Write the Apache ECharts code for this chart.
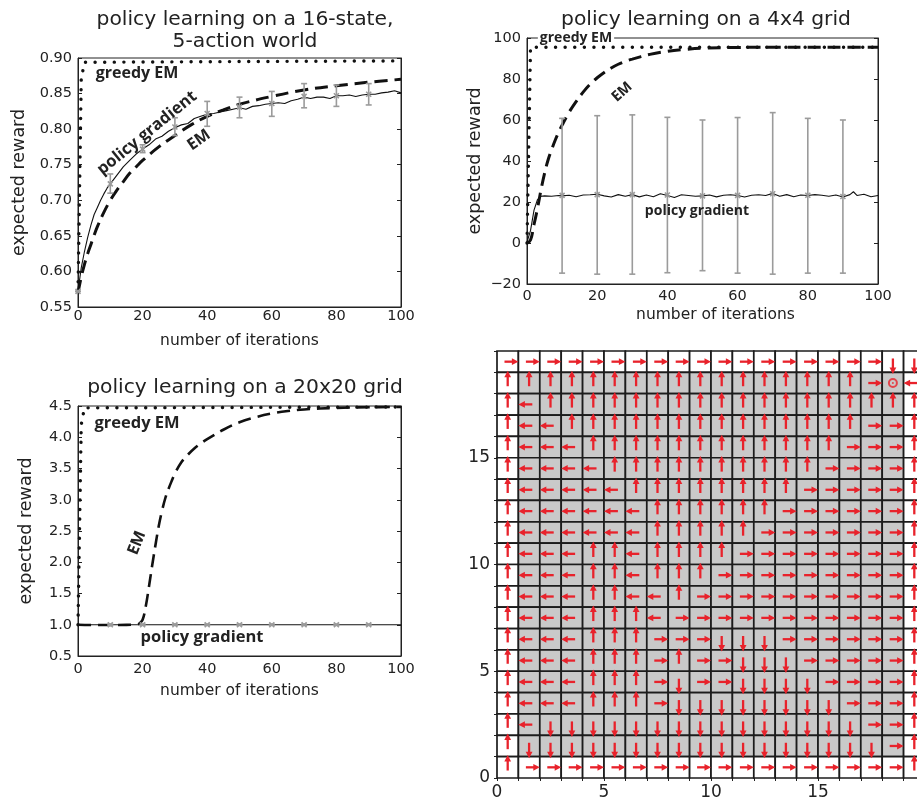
<!DOCTYPE html>
<html>
<head>
<meta charset="utf-8">
<title>policy learning</title>
<script src="https://cdn.jsdelivr.net/npm/echarts@6/dist/echarts.min.js"></script>
<style>
  html, body { margin: 0; padding: 0; background: #fff; }
  #chart { width: 917px; height: 802px; }
</style>
</head>
<body>
<div id="chart"></div>
<script>
// ---- values ----

// 16-state, 5-action world
const tlGreedyX = [0, 1, 2, 100];
const tlGreedyY = [0.572, 0.87, 0.894, 0.896];
const tlEmX = [0, 1, 2, 3, 4, 5, 6, 8, 10, 12, 14, 16, 18, 20, 25, 30, 35, 40, 45, 50, 60, 70, 80, 90, 100];
const tlEmY = [0.57, 0.592, 0.61, 0.625, 0.638, 0.651, 0.663, 0.683, 0.70, 0.714, 0.726, 0.738, 0.747,
  0.756, 0.775, 0.791, 0.806, 0.818, 0.827, 0.835, 0.846, 0.855, 0.861, 0.866, 0.87];
const tlPgX = [0, 1, 2, 3, 4, 5, 6, 7, 8, 9, 10, 12, 14, 16, 18, 20, 22, 24, 26, 28, 30, 32, 34, 36, 38,
  40, 42, 44, 46, 48, 50, 52, 54, 56, 58, 60, 62, 64, 66, 68, 70, 72, 74, 76, 78, 80, 82, 84, 86, 88,
  90, 92, 94, 96, 98, 100];
const tlPgY = [0.572, 0.605, 0.628, 0.648, 0.665, 0.68, 0.69, 0.70, 0.709, 0.717, 0.723, 0.735, 0.747,
  0.756, 0.765, 0.772, 0.778, 0.786, 0.79, 0.797, 0.802, 0.806, 0.808, 0.815, 0.818, 0.821, 0.822,
  0.824, 0.826, 0.828, 0.83, 0.828, 0.832, 0.833, 0.835, 0.836, 0.837, 0.836, 0.84, 0.842, 0.845,
  0.843, 0.845, 0.845, 0.843, 0.847, 0.847, 0.848, 0.846, 0.848, 0.849, 0.849, 0.851, 0.852, 0.854, 0.851];
const tlErrX = [0, 10, 20, 30, 40, 50, 60, 70, 80, 90];
const tlErrMid = [0.572, 0.723, 0.772, 0.803, 0.822, 0.831, 0.836, 0.846, 0.847, 0.849];
const tlErrLo = [0.572, 0.71, 0.767, 0.791, 0.804, 0.816, 0.818, 0.83, 0.832, 0.834];
const tlErrHi = [0.572, 0.737, 0.778, 0.816, 0.839, 0.845, 0.853, 0.864, 0.862, 0.864];

// 4x4 grid
const trGreedyX = [0, 1, 100];
const trGreedyY = [0, 95.5, 95.5];
const trEmX = [0, 1, 2, 3, 4, 5, 6, 7, 8, 9, 10, 12, 14, 16, 18, 20, 22, 24, 26, 28, 30, 35, 40, 45, 50,
  60, 70, 80, 90, 100];
const trEmY = [0, 1.5, 9, 17, 26, 34, 40.5, 45.5, 50, 54, 57.5, 63.8, 69, 73.6, 77.5, 80.6, 83.2, 85.4,
  87.2, 88.6, 89.7, 92, 93.5, 94.4, 95, 95.4, 95.5, 95.5, 95.5, 95.5];
const trPgX = [0, 1, 2, 3, 4, 5, 7, 9, 10, 12, 14, 16, 18, 20, 22, 24, 26, 28, 30, 32, 34, 36, 38, 40,
  42, 44, 46, 48, 50, 52, 54, 56, 58, 60, 62, 64, 66, 68, 70, 72, 74, 76, 78, 80, 82, 84, 86, 88, 90,
  92, 93, 94, 96, 98, 100];
const trPgY = [0.5, 6, 16, 21.2, 22.8, 23, 22.8, 23.2, 23, 23.3, 22.6, 23.4, 23.5, 23.8, 23, 22.4, 23.6,
  22.8, 23.6, 22.5, 23.4, 22.6, 24, 23.2, 22.2, 23.5, 23.2, 22.8, 23, 23.4, 22.5, 23.3, 23.5, 23.2,
  22.4, 23.3, 23.5, 23.2, 24.2, 22.8, 23.6, 22.6, 23.4, 23.2, 23.6, 23.3, 22.8, 23.4, 22.4, 23.6, 25,
  23.2, 23.8, 22.6, 23.2];
const trErrX = [10, 20, 30, 40, 50, 60, 70, 80, 90];
const trErrMid = [23.2, 23.6, 23.6, 23.4, 23, 23.2, 24, 23.3, 22.7];
const trErrLo = [-14.7, -15.2, -15.2, -14.5, -13.5, -14.7, -15.2, -14.7, -14.7];
const trErrHi = [60.8, 62.1, 62.5, 61.3, 60, 61.2, 63.6, 60.8, 60];

// 20x20 grid
const blGreedyX = [0, 1, 2, 100];
const blGreedyY = [1.0, 4.2, 4.47, 4.484];
const blEmX = [0, 5, 10, 15, 18, 19, 20, 21, 22, 23, 24, 25, 26, 27, 28, 29, 30, 32, 34, 36, 38, 40, 45,
  50, 55, 60, 65, 70, 80, 90, 100];
const blEmY = [1.0, 0.995, 0.995, 0.998, 1.005, 1.02, 1.08, 1.3, 1.62, 1.96, 2.28, 2.58, 2.82, 3.02,
  3.17, 3.3, 3.42, 3.6, 3.72, 3.82, 3.9, 3.97, 4.12, 4.24, 4.32, 4.38, 4.42, 4.445, 4.47, 4.48, 4.485];
const blPgX = [0, 100];
const blPgY = [1.0, 1.0];
const blErrX = [10, 20, 30, 40, 50, 60, 70, 80, 90];
const blErrMid = [1, 1, 1, 1, 1, 1, 1, 1, 1];
const blErrLo = [0.99, 0.99, 0.99, 0.99, 0.99, 0.99, 0.99, 0.99, 0.99];
const blErrHi = [1.01, 1.01, 1.01, 1.01, 1.01, 1.01, 1.01, 1.01, 1.01];

// greedy policy on the 20x20 grid, top row (y = 19) first, columns x = 0..19
// R right, L left, U up, D down, G goal
const policyRows = [
  "RRRRRRRRRRRRRRRRRRDD",
  "UUUUUUUUUUUUUUUUURGL",
  "ULUUUUUUUUUUUUUUUUUU",
  "ULLUUUUUUUUUUUUUURRU",
  "ULLLUUUUUUUUUUUURRRU",
  "ULLLLUUUUUUUUUURRRRU",
  "ULLLLLUUUUUUUURRRRRU",
  "ULLLLLLUUUUUURRRRRRU",
  "ULLLLLLUUUUURRRRRRRU",
  "ULLLUULUUUURRRRRRRRU",
  "ULLLUULUUURRRRRRRRRU",
  "ULLLUULLURRRRRRRRRRU",
  "ULLLUUULRRRRRRRRRRRU",
  "ULLLUUURRRDDDRRRRRRU",
  "ULLLUUURURRDDDRRRRRU",
  "ULLLUUURDRRDDDDRRRRU",
  "ULLLUUURDDDDDDDDRRRU",
  "ULDDDDDDDDDDDDDDDRRU",
  "UDDDDDDDDDDDDDDDDDRU",
  "URRRRRRRRRRRRRRRRRRU"
];
const gridSize = 20;
const innerSpan = [1, 18];   // shaded interior cells

// ---- build series data ----
const zip = (xs, ys) => xs.map((x, i) => [x, ys[i]]);
const errData = (xs, lo, hi, mid) => xs.map((x, i) => [x, lo[i], hi[i], mid[i]]);

const dirVec = { R: [1, 0], L: [-1, 0], U: [0, 1], D: [0, -1] };
const cellData = [];
const arrowData = [];
let goal = null;
policyRows.forEach((line, r) => {
  const row = gridSize - 1 - r;
  line.split('').forEach((ch, col) => {
    const inner = col >= innerSpan[0] && col <= innerSpan[1] && row >= innerSpan[0] && row <= innerSpan[1];
    cellData.push([col, row, inner ? 1 : 0]);
    if (ch === 'G') goal = [col + 0.5, row + 0.5];
    else arrowData.push([col, row, dirVec[ch][0], dirVec[ch][1]]);
  });
});

const ink = '#222';
const red = '#e8222b';
const tickFont = { fontFamily: 'DejaVu Sans', fontSize: 14.5, color: ink };
const xNameFont = { fontFamily: 'DejaVu Sans', fontSize: 15.5, color: ink };
const yNameFont = { fontFamily: 'DejaVu Sans', fontSize: 17.5, color: ink };
const noteFont = 'Open Sans';

function errorBarItem(params, api) {
  const x = api.value(0);
  const top = api.coord([x, api.value(2)]);
  const bot = api.coord([x, api.value(1)]);
  const c = api.coord([x, api.value(3)]);
  const st = { stroke: '#9b9b9b', lineWidth: 1.6 };
  const cap = 3, m = 2.5;
  return {
    type: 'group',
    children: [
      { type: 'line', shape: { x1: top[0], y1: top[1], x2: bot[0], y2: bot[1] }, style: st },
      { type: 'line', shape: { x1: top[0] - cap, y1: top[1], x2: top[0] + cap, y2: top[1] }, style: st },
      { type: 'line', shape: { x1: bot[0] - cap, y1: bot[1], x2: bot[0] + cap, y2: bot[1] }, style: st },
      { type: 'line', shape: { x1: c[0] - m, y1: c[1] - m, x2: c[0] + m, y2: c[1] + m }, style: st },
      { type: 'line', shape: { x1: c[0] - m, y1: c[1] + m, x2: c[0] + m, y2: c[1] - m }, style: st }
    ]
  };
}

function cellItem(params, api) {
  const col = api.value(0), row = api.value(1);
  const p = api.coord([col, row + 1]);
  const s = api.size([1, 1]);
  return {
    type: 'rect',
    shape: { x: p[0], y: p[1], width: s[0], height: s[1] },
    style: { fill: api.value(2) ? '#c9c9c9' : '#fff', stroke: '#1c1c1c', lineWidth: 1.7 }
  };
}

function arrowItem(params, api) {
  const cx = api.value(0) + 0.5, cy = api.value(1) + 0.5;
  const dx = api.value(2), dy = api.value(3);
  const len = dx !== 0 ? 0.5 : 0.58;
  const b = api.coord([cx - 0.15 * dx, cy - 0.15 * dy]);
  const t = api.coord([cx + len * dx, cy + len * dy]);
  const L = Math.hypot(t[0] - b[0], t[1] - b[1]);
  const ux = (t[0] - b[0]) / L, uy = (t[1] - b[1]) / L;
  const hl = 6.5, hw = 3.4;
  return {
    type: 'group',
    children: [
      { type: 'line', shape: { x1: b[0], y1: b[1], x2: t[0] - ux * hl * 0.6, y2: t[1] - uy * hl * 0.6 },
        style: { stroke: red, lineWidth: 2.3 } },
      { type: 'polygon', shape: { points: [
          [t[0], t[1]],
          [t[0] - ux * hl - uy * hw, t[1] - uy * hl + ux * hw],
          [t[0] - ux * hl + uy * hw, t[1] - uy * hl - ux * hw]
        ] }, style: { fill: red } }
    ]
  };
}

function iterAxis(gridIndex, margin, gap, pad) {
  return {
    gridIndex, type: 'value', min: 0, max: 100, interval: 20,
    name: 'number of iterations', nameLocation: 'middle', nameGap: gap,
    nameTextStyle: Object.assign({ padding: pad || 0 }, xNameFont),
    axisLine: { show: true, onZero: false, lineStyle: { color: ink, width: 1 } },
    axisTick: { show: false },
    axisLabel: Object.assign({ margin }, tickFont),
    splitLine: { show: false }
  };
}

function rewardAxis(gridIndex, min, max, interval, fmt, gap) {
  return {
    gridIndex, type: 'value', min, max, interval,
    name: 'expected reward', nameLocation: 'middle', nameGap: gap, nameTextStyle: yNameFont,
    axisLine: { show: true, onZero: false, lineStyle: { color: ink, width: 1 } },
    axisTick: { show: true, inside: true, length: 4, lineStyle: { color: ink } },
    axisLabel: Object.assign({ margin: 6, formatter: fmt }, tickFont),
    splitLine: { show: false }
  };
}

function rightTicks(gridIndex, min, max, interval) {
  return {
    gridIndex, type: 'value', position: 'right', min, max, interval,
    axisLine: { show: true, onZero: false, lineStyle: { color: ink, width: 1 } },
    axisTick: { show: true, inside: true, length: 4, lineStyle: { color: ink } },
    axisLabel: { show: false }, splitLine: { show: false }
  };
}

function lineSeries(idx, data, kind, width) {
  const styles = {
    greedy: { color: '#111', width: 3.4, type: [0.1, 9.5], cap: 'round' },
    em: { color: '#111', width: width || 3, type: [13, 7] },
    pg: { color: '#111', width: 1.1 }
  };
  return {
    type: 'line', xAxisIndex: idx, yAxisIndex: idx, data,
    showSymbol: false, symbol: 'none', silent: true,
    smooth: kind === 'em' ? 0.4 : false,
    lineStyle: styles[kind], z: kind === 'pg' ? 3 : 2
  };
}

function errSeries(idx, data) {
  return { type: 'custom', xAxisIndex: idx, yAxisIndex: idx, renderItem: errorBarItem, data, silent: true, z: 4 };
}

function note(text, x, y, size, angle, bg) {
  return {
    type: 'text', x, y, rotation: (angle || 0) * Math.PI / 180, z: 100,
    style: { text, fontFamily: noteFont, fontWeight: 'bold', fontSize: size, fill: ink,
      align: 'center', verticalAlign: 'middle', backgroundColor: bg || 'transparent', padding: bg ? [0, 2] : 0 }
  };
}

const minus = v => (v < 0 ? '\u2212' + Math.abs(v) : String(v));
const titleStyle = { fontFamily: 'DejaVu Sans', fontWeight: 'normal', fontSize: 20.3, color: ink, lineHeight: 22.5 };

const chart = echarts.init(document.getElementById('chart'));
chart.setOption({
  animation: false,
  backgroundColor: '#fff',
  title: [
    { text: 'policy learning on a 16-state,\n5-action world', left: 240, top: 3, textAlign: 'center', textStyle: titleStyle },
    { text: 'policy learning on a 4x4 grid', left: 701, top: 3, textAlign: 'center', textStyle: titleStyle },
    { text: 'policy learning on a 20x20 grid', left: 240, top: 371, textAlign: 'center', textStyle: titleStyle }
  ],
  grid: [
    { left: 78, top: 58, width: 323, height: 249, show: true, borderColor: ink, borderWidth: 1, outerBoundsMode: 'none' },
    { left: 527, top: 38, width: 351, height: 246, show: true, borderColor: ink, borderWidth: 1, outerBoundsMode: 'none' },
    { left: 78, top: 406, width: 323, height: 250, show: true, borderColor: ink, borderWidth: 1, outerBoundsMode: 'none' },
    { left: 497, top: 351, width: 428, height: 427, outerBoundsMode: 'none' }
  ],
  xAxis: [
    iterAxis(0, 2, 26),
    iterAxis(1, 5, 23, [0, 0, 0, 26]),
    iterAxis(2, 6, 27),
    {
      gridIndex: 3, type: 'value', min: 0, max: gridSize, interval: 1,
      axisLine: { show: false },
      axisTick: { show: true, length: 3, lineStyle: { color: ink } },
      axisLabel: { margin: 6, fontFamily: 'DejaVu Sans', fontSize: 17, color: ink,
        formatter: v => (v % 5 === 0 && v < gridSize ? String(v) : '') },
      splitLine: { show: false }
    }
  ],
  yAxis: [
    rewardAxis(0, 0.55, 0.90, 0.05, v => v.toFixed(2), 50),
    rewardAxis(1, -20, 100, 20, minus, 43),
    rewardAxis(2, 0.5, 4.5, 0.5, v => v.toFixed(1), 43),
    {
      gridIndex: 3, type: 'value', min: 0, max: gridSize, interval: 1,
      axisLine: { show: false },
      axisTick: { show: true, length: 3, lineStyle: { color: ink } },
      axisLabel: { margin: 7, fontFamily: 'DejaVu Sans', fontSize: 17, color: ink,
        formatter: v => (v % 5 === 0 && v < gridSize ? String(v) : '') },
      splitLine: { show: false }
    },
    rightTicks(0, 0.55, 0.90, 0.05),
    rightTicks(1, -20, 100, 20),
    rightTicks(2, 0.5, 4.5, 0.5)
  ],
  series: [
    lineSeries(0, zip(tlGreedyX, tlGreedyY), 'greedy'),
    lineSeries(0, zip(tlEmX, tlEmY), 'em'),
    lineSeries(0, zip(tlPgX, tlPgY), 'pg'),
    errSeries(0, errData(tlErrX, tlErrLo, tlErrHi, tlErrMid)),

    lineSeries(1, zip(trGreedyX, trGreedyY), 'greedy'),
    lineSeries(1, zip(trEmX, trEmY), 'em'),
    errSeries(1, errData(trErrX, trErrLo, trErrHi, trErrMid)),
    lineSeries(1, zip(trPgX, trPgY), 'pg'),

    lineSeries(2, zip(blGreedyX, blGreedyY), 'greedy'),
    lineSeries(2, zip(blEmX, blEmY), 'em', 2.6),
    lineSeries(2, zip(blPgX, blPgY), 'pg'),
    errSeries(2, errData(blErrX, blErrLo, blErrHi, blErrMid)),

    { type: 'custom', xAxisIndex: 3, yAxisIndex: 3, renderItem: cellItem, data: cellData, silent: true, z: 1 },
    { type: 'custom', xAxisIndex: 3, yAxisIndex: 3, renderItem: arrowItem, data: arrowData, silent: true, z: 2 },
    {
      type: 'scatter', xAxisIndex: 3, yAxisIndex: 3, data: [goal], symbol: 'circle', symbolSize: 8,
      itemStyle: { color: 'rgba(0,0,0,0)', borderColor: red, borderWidth: 2 }, silent: true, z: 3
    },
    {
      type: 'scatter', xAxisIndex: 3, yAxisIndex: 3, data: [goal], symbol: 'circle', symbolSize: 2,
      itemStyle: { color: red }, silent: true, z: 3
    }
  ],
  graphic: [
    note('greedy EM', 137, 73, 16),
    note('policy gradient', 147, 133, 16.5, 39),
    note('EM', 199, 140, 16, 35),
    note('greedy EM', 576, 38, 14, 0, '#fff'),
    note('EM', 622, 92, 14.5, 42),
    note('policy gradient', 697, 211, 14),
    note('greedy EM', 137, 423, 16.5),
    note('EM', 137, 543, 16, 68),
    note('policy gradient', 202, 637, 16.5)
  ]
});
</script>
</body>
</html>
